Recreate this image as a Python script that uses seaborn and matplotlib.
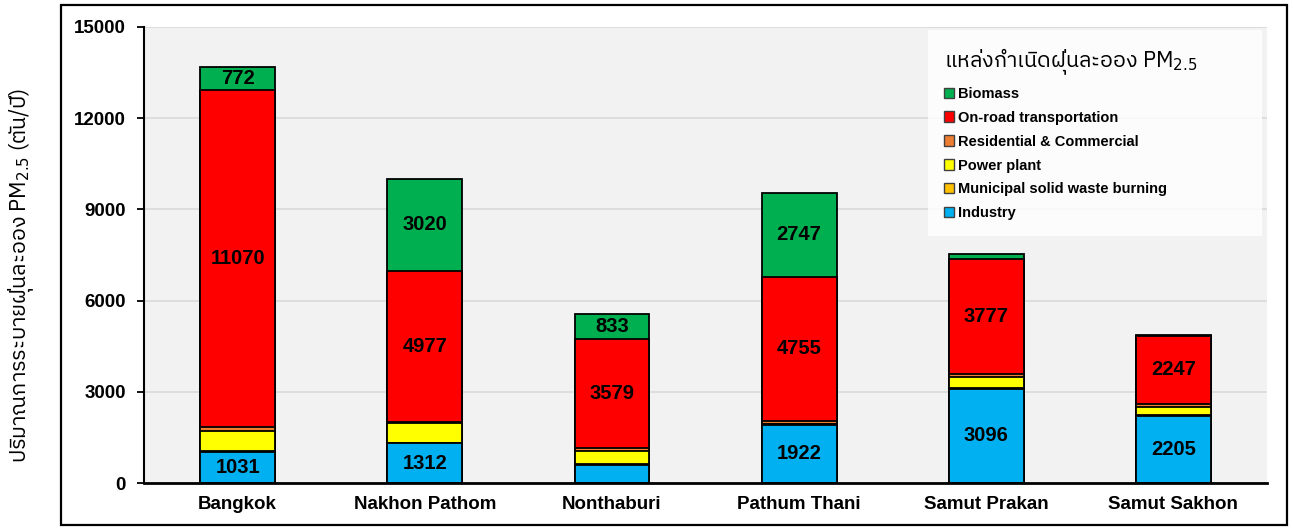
import numpy as np
import matplotlib
matplotlib.use("Agg")
import matplotlib.pyplot as plt
import seaborn as sns
from matplotlib.patches import Patch, Rectangle
import matplotlib.font_manager as fm
from matplotlib.ft2font import FT2Font

# ---------------- data ----------------
categories = ["Bangkok", "Nakhon Pathom", "Nonthaburi", "Pathum Thani", "Samut Prakan", "Samut Sakhon"]
industry = [1031, 1312, 600, 1922, 3096, 2205]
msw_burning = [30, 10, 15, 15, 40, 30]
power_plant = [640, 650, 450, 10, 360, 270]
residential = [140, 30, 80, 90, 90, 100]
onroad = [11070, 4977, 3579, 4755, 3777, 2247]
biomass = [772, 3020, 833, 2747, 180, 15]

series_names = ["Industry", "Municipal solid waste burning", "Power plant",
                "Residential & Commercial", "On-road transportation", "Biomass"]
series_colors = ["#00B0F0", "#FFC000", "#FFFF00", "#ED7D31", "#FF0000", "#00B050"]
yticks = [0, 3000, 6000, 9000, 12000, 15000]
legend_title = "แหล่งกำเนิดฝุ่นละออง PM$_{2.5}$"
ylabel = "ปริมาณการระบายฝุ่นละออง PM$_{2.5}$ (ตัน/ปี)"
LABEL_MIN = 700

# ---------------- fonts ----------------
def find_thai_family():
    cands = []
    for f in fm.fontManager.ttflist:
        try:
            if ord("ก") in FT2Font(f.fname).get_charmap():
                cands.append(f.name)
        except Exception:
            pass
    pref = [c for c in cands if "Thai" in c and "Looped" not in c]
    pref2 = [c for c in cands if "Thai" in c]
    for lst in (pref, pref2, cands):
        if lst:
            return lst[0]
    return None

thai = find_thai_family()
sns.set_style("white")
plt.rcParams["font.family"] = ["Liberation Sans", "DejaVu Sans"]
plt.rcParams["text.color"] = "black"
plt.rcParams["axes.labelcolor"] = "black"
plt.rcParams["xtick.color"] = "black"
plt.rcParams["ytick.color"] = "black"
thai_family = ([thai] if thai else []) + ["Liberation Sans", "DejaVu Sans"]

# ---------------- figure ----------------
fig = plt.figure(figsize=(12.93, 5.28), dpi=100)
ax = fig.add_axes([0.1114, 0.0852, 0.8685, 0.8637])
ax.set_facecolor("#F2F2F2")
ax.set_axisbelow(True)

data = [industry, msw_burning, power_plant, residential, onroad, biomass]
arr = np.array(data, dtype=float)
cum = np.cumsum(arr, axis=0)

for k in range(len(data) - 1, -1, -1):
    sns.barplot(x=categories, y=cum[k], color=series_colors[k], saturation=1,
                width=0.4, edgecolor="black", linewidth=1.3, errorbar=None,
                ax=ax)

for k in range(len(data)):
    for i, v in enumerate(data[k]):
        if v >= LABEL_MIN:
            bottom = cum[k][i] - v
            ax.text(i, bottom + v / 2, f"{v}", ha="center", va="center",
                    fontsize=14.5, fontweight="bold", color="black")

ax.set_ylim(0, 15000)
ax.set_yticks(yticks)
ax.set_yticklabels([str(t) for t in yticks], fontsize=13.5, fontweight="bold")
ax.set_xticks(range(len(categories)))
ax.set_xticklabels(categories, fontsize=13.5, fontweight="bold")
ax.set_xlim(-0.5, len(categories) - 0.5)
ax.yaxis.grid(True, color="#D9D9D9", linewidth=1.2)
ax.xaxis.grid(False)
ax.tick_params(axis="y", length=5, width=1.3, direction="out", left=True, pad=8, colors="black")
ax.tick_params(axis="x", length=0, pad=9, colors="black")
ax.set_xlabel("")
ax.set_ylabel("")
for s in ["top", "right"]:
    ax.spines[s].set_visible(False)
ax.spines["left"].set_color("black")
ax.spines["left"].set_linewidth(1.5)
ax.spines["bottom"].set_color("black")
ax.spines["bottom"].set_linewidth(2)

# legend
handles = [Patch(facecolor=series_colors[k], edgecolor="#404040", linewidth=1)
           for k in range(len(data) - 1, -1, -1)]
labels = [series_names[k] for k in range(len(data) - 1, -1, -1)]
leg = ax.legend(handles, labels, loc="upper left",
                bbox_to_anchor=(0.698, 0.5, 0.2974, 0.493), mode="expand",
                frameon=True, fancybox=False, facecolor="white", edgecolor="white",
                prop={"family": ["Liberation Sans"], "weight": "bold", "size": 10.5},
                handlelength=0.7, handleheight=0.7, handletextpad=0.25,
                labelspacing=0.68, borderpad=1.1, borderaxespad=0)
leg.set_title(legend_title, prop={"family": thai_family, "size": 15.5})
leg.get_title().set_color("black")
for t in leg.get_texts():
    t.set_color("black")
leg._legend_box.align = "left"
leg.get_frame().set_linewidth(0)

# y label
fig.text(0.0165, 0.479, ylabel, rotation=90, ha="center", va="center",
         fontsize=15.5, family=thai_family, color="black")

# outer frame
fig.add_artist(Rectangle((0.0472, 0.0057), 0.9482, 0.9848, transform=fig.transFigure,
                         fill=False, edgecolor="black", linewidth=1.6))

fig.savefig("out.png", dpi=100)
